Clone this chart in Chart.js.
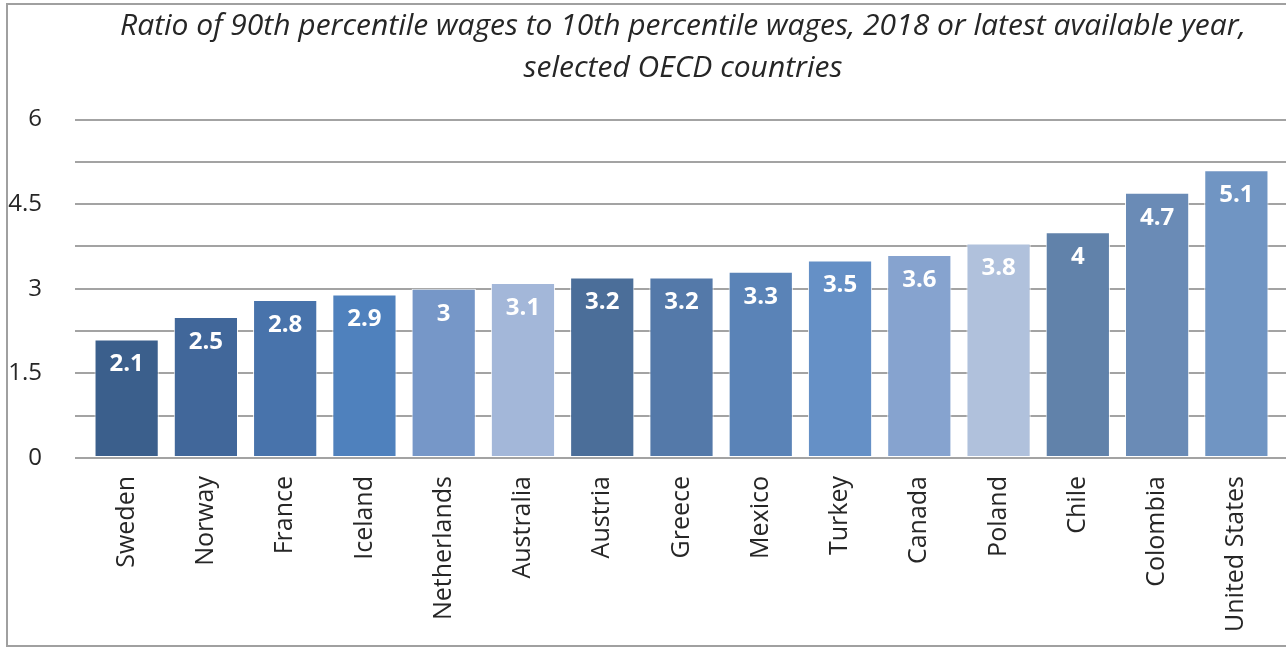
<!DOCTYPE html>
<html>
<head>
<meta charset="utf-8">
<script src="https://cdn.jsdelivr.net/npm/chart.js@4"></script>
<style>
  html, body { margin: 0; padding: 0; background: #fff; overflow: hidden; }
  #frame {
    position: absolute; left: 6px; top: 3px;
    width: 1350px; height: 640px;
    border-top: 2px solid #a0a0a0;
    border-left: 2px solid #a0a0a0;
    border-bottom: 2px solid #a0a0a0;
  }
  canvas { display: block; }
</style>
</head>
<body>
<div id="frame"><canvas id="wageChart" width="1350" height="640"></canvas></div>
<script>
// P90/P10 wage ratios by country
var countries = ["Sweden", "Norway", "France", "Iceland", "Netherlands", "Australia", "Austria",
                 "Greece", "Mexico", "Turkey", "Canada", "Poland", "Chile", "Colombia", "United States"];
var ratios = [2.1, 2.5, 2.8, 2.9, 3, 3.1, 3.2, 3.2, 3.3, 3.5, 3.6, 3.8, 4, 4.7, 5.1];
var barColors = ["#3b5f8c", "#41679a", "#4873ab", "#4f81bd", "#7697c8", "#a3b7d9", "#4b6e99",
                 "#5479a9", "#5a83b7", "#6590c6", "#86a3cf", "#b0c1dc", "#6182aa", "#6a8bb6", "#7095c3"];
var yTickLabels = [0, 1.5, 3, 4.5, 6];

var font = "'Open Sans', 'DejaVu Sans', sans-serif";
var gridColor = "#a3a3a3";

// white value labels inside the top of every bar
var barValues = {
    id: 'barValues',
    afterDatasetsDraw: function (chart) {
        var c = chart.ctx;
        var meta = chart.getDatasetMeta(0);
        c.save();
        c.font = "bold 24px " + font;
        c.fillStyle = "#ffffff";
        c.textAlign = "center";
        c.textBaseline = "middle";
        meta.data.forEach(function (bar, i) {
            c.fillText(String(chart.data.datasets[0].data[i]), bar.x, bar.y + 25);
        });
        c.restore();
    }
};

var ctx = document.getElementById("wageChart");
var wageChart = new Chart(ctx, {
    type: 'bar',
    data: {
        labels: countries,
        datasets: [{
            data: ratios,
            backgroundColor: barColors,
            borderColor: "rgba(255,255,255,0.9)",
            borderWidth: 1,
            borderSkipped: false,
            categoryPercentage: 1,
            barPercentage: 0.81
        }]
    },
    options: {
        responsive: false,
        animation: false,
        events: [],
        layout: { padding: 0 },
        plugins: {
            legend: { display: false },
            tooltip: { enabled: false },
            title: {
                display: true,
                text: ["Ratio of 90th percentile wages to 10th percentile wages, 2018 or latest available year,",
                       "selected OECD countries"],
                color: "#262626",
                font: { family: font, size: 30, style: 'italic', weight: 'normal', lineHeight: 1.4 },
                padding: { top: 0, bottom: 30.5 }
            }
        },
        scales: {
            x: {
                grid: { display: false, drawTicks: false },
                border: { display: false },
                ticks: {
                    color: "#262626",
                    font: { family: font, size: 25 },
                    maxRotation: 90,
                    minRotation: 90,
                    padding: 18,
                    autoSkip: false
                },
                afterFit: function (scale) { scale.height = 187; }
            },
            y: {
                min: 0,
                max: 6,
                border: { display: false },
                grid: { color: gridColor, lineWidth: 2, drawTicks: true, tickLength: 12 },
                ticks: {
                    stepSize: 0.75,
                    color: "#262626",
                    font: { family: font, size: 24 },
                    padding: 33,
                    callback: function (value) {
                        var hit = yTickLabels.some(function (t) { return Math.abs(t - value) < 1e-6; });
                        return hit ? value : '';
                    }
                },
                afterFit: function (scale) { scale.width = 79; }
            },
            // keeps the gridlines running on past the last bar
            yRight: {
                position: 'right',
                min: 0,
                max: 6,
                border: { display: false },
                grid: { color: gridColor, lineWidth: 2, drawOnChartArea: false, drawTicks: true, tickLength: 90 },
                ticks: { stepSize: 0.75, display: false },
                afterFit: function (scale) { scale.width = 82; }
            }
        }
    },
    plugins: [barValues]
});
</script>
</body>
</html>
